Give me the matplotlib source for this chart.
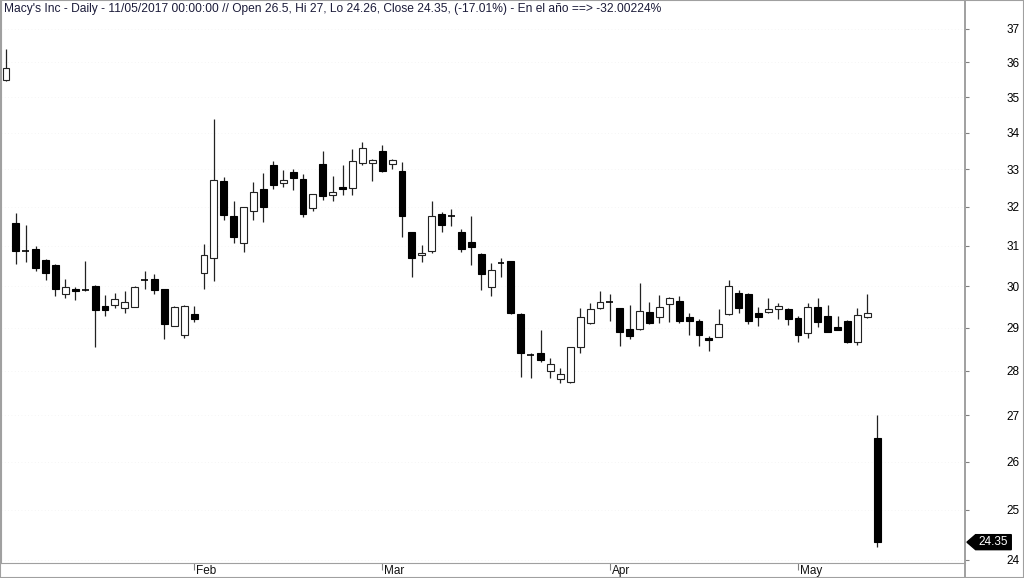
import numpy as np
import matplotlib.pyplot as plt
from matplotlib.patches import Polygon, Rectangle
from matplotlib.lines import Line2D
import matplotlib.transforms as mtrans

plt.rcParams['font.family'] = ['Liberation Sans', 'DejaVu Sans']

# daily candles, Jan 4 2017 .. May 11 2017
dates = ['01-04', '01-05', '01-06', '01-09', '01-10', '01-11', '01-12', '01-13', '01-17', '01-18',
         '01-19', '01-20', '01-23', '01-24', '01-25', '01-26', '01-27', '01-30', '01-31',
         '02-01', '02-02', '02-03', '02-06', '02-07', '02-08', '02-09', '02-10', '02-13', '02-14',
         '02-15', '02-16', '02-17', '02-21', '02-22', '02-23', '02-24', '02-27', '02-28',
         '03-01', '03-02', '03-03', '03-06', '03-07', '03-08', '03-09', '03-10', '03-13', '03-14',
         '03-15', '03-16', '03-17', '03-20', '03-21', '03-22', '03-23', '03-24', '03-27', '03-28',
         '03-29', '03-30', '03-31',
         '04-03', '04-04', '04-05', '04-06', '04-07', '04-10', '04-11', '04-12', '04-13', '04-17',
         '04-18', '04-19', '04-20', '04-21', '04-24', '04-25', '04-26', '04-27', '04-28',
         '05-01', '05-02', '05-03', '05-04', '05-05', '05-08', '05-09', '05-10', '05-11']

opens = [35.49, 31.59, 30.87, 30.91, 30.65, 30.53, 29.81, 29.92, 29.91, 30.01,
         29.52, 29.55, 29.48, 29.50, 30.15, 30.18, 29.93, 29.05, 28.83,
         29.32, 30.33, 30.70, 32.68, 31.76, 31.07, 31.90, 32.47, 33.10, 32.64,
         32.92, 32.74, 31.97, 33.13, 32.32, 32.52, 32.50, 33.17, 33.17,
         33.50, 33.15, 32.96, 31.35, 30.78, 30.87, 31.83, 31.77, 31.35, 31.09,
         30.80, 29.99, 30.56, 30.61, 29.32, 28.37, 28.41, 28.00, 27.81, 27.74,
         28.54, 29.12, 29.46,
         29.61, 29.47, 28.96, 28.96, 29.37, 29.26, 29.56, 29.65, 29.26, 29.17,
         28.77, 28.79, 29.32, 29.84, 29.80, 29.34, 29.38, 29.45, 29.45,
         29.22, 28.87, 29.50, 29.28, 29.01, 29.16, 28.66, 29.26, 26.50]

highs = [36.39, 31.85, 31.53, 30.99, 30.67, 30.55, 30.17, 29.97, 30.62, 30.02,
         29.79, 29.83, 29.89, 30.01, 30.38, 30.30, 29.94, 29.51, 29.55,
         29.53, 31.05, 34.38, 32.79, 32.15, 32.00, 32.66, 32.89, 33.23, 32.99,
         33.01, 32.86, 32.34, 33.50, 32.83, 33.10, 33.55, 33.73, 33.28,
         33.65, 33.28, 33.19, 31.36, 31.03, 32.15, 31.86, 31.96, 31.43, 31.76,
         30.81, 30.57, 30.69, 30.62, 29.36, 28.40, 28.95, 28.29, 28.06, 28.55,
         29.48, 29.60, 29.87,
         29.82, 29.48, 29.54, 30.07, 29.61, 29.79, 29.73, 29.75, 29.36, 29.20,
         28.81, 29.44, 30.15, 29.91, 29.83, 29.50, 29.71, 29.60, 29.47,
         29.28, 29.59, 29.71, 29.54, 29.28, 29.18, 29.46, 29.80, 27.00]

lows = [35.47, 30.54, 30.59, 30.38, 30.15, 29.76, 29.70, 29.66, 29.87, 28.56,
        29.29, 29.48, 29.36, 29.49, 29.92, 29.80, 28.73, 29.04, 28.75,
        29.14, 29.92, 30.13, 31.67, 31.07, 30.84, 31.67, 31.60, 32.47, 32.53,
        32.45, 31.75, 31.90, 32.17, 32.15, 32.32, 32.32, 33.12, 32.69,
        32.92, 33.01, 31.22, 30.22, 30.59, 30.82, 31.36, 31.50, 30.84, 30.53,
        29.91, 29.76, 30.22, 29.33, 27.85, 27.83, 28.21, 27.83, 27.73, 27.73,
        28.42, 29.08, 29.45,
        29.17, 28.57, 28.73, 28.95, 29.09, 29.12, 29.14, 29.12, 28.83, 28.57,
        28.46, 28.78, 29.31, 29.34, 29.08, 29.03, 29.34, 29.21, 29.07,
        28.67, 28.77, 29.01, 28.90, 28.94, 28.64, 28.60, 29.22, 24.26]

closes = [35.83, 30.87, 30.85, 30.45, 30.33, 29.92, 29.99, 29.87, 29.89, 29.42,
          29.42, 29.69, 29.62, 29.99, 30.15, 29.91, 29.09, 29.50, 29.53,
          29.20, 30.76, 32.72, 31.80, 31.22, 31.99, 32.39, 32.01, 32.58, 32.71,
          32.77, 31.82, 32.33, 32.30, 32.39, 32.46, 33.21, 33.58, 33.26,
          32.95, 33.25, 31.77, 30.70, 30.83, 31.77, 31.54, 31.77, 30.91, 30.97,
          30.29, 30.40, 30.56, 29.34, 28.40, 28.37, 28.25, 28.16, 27.93, 28.54,
          29.26, 29.45, 29.62,
          29.61, 28.89, 28.81, 29.40, 29.11, 29.50, 29.70, 29.16, 29.17, 28.82,
          28.71, 29.08, 30.01, 29.47, 29.16, 29.26, 29.44, 29.52, 29.21,
          28.84, 29.50, 29.14, 28.91, 28.95, 28.66, 29.30, 29.34, 24.35]

month_labels = ['Feb', 'Mar', 'Apr', 'May']
month_starts = ['02-01', '03-01', '04-03', '05-01']
yticks = [24, 25, 26, 27, 28, 29, 30, 31, 32, 33, 34, 35, 36, 37]

title = ("Macy's Inc - Daily - 11/05/2017 00:00:00 // Open 26.5, Hi 27, Lo 24.26, "
         "Close 24.35, (-17.01%) - En el año ==> -32.00224%")

x = np.arange(len(dates))
o = np.array(opens)
h = np.array(highs)
l = np.array(lows)
c = np.array(closes)

fig = plt.figure(figsize=(10.24, 5.78), dpi=100)
ax = fig.add_axes([1 / 1024, 15 / 578, 964 / 1024, 563 / 578])

ax.set_yscale('log')
ax.set_ylim(23.94, 37.88)
ax.set_xlim(-0.505, 96.87)

# faint grid
for t in yticks:
    ax.axhline(t, color='#f2f2f2', lw=0.6, ls=(0, (1, 3)), zorder=0)

# wicks
ax.vlines(x, l, h, color='#222222', lw=0.9, zorder=1)

# bodies
w = 0.7
for xi, oi, ci in zip(x, o, c):
    if abs(ci - oi) < 0.03:
        ax.hlines(oi, xi - w / 2, xi + w / 2, color='black', lw=1.2, zorder=2)
        continue
    up = ci > oi
    ax.bar(xi, abs(ci - oi), bottom=min(oi, ci), width=w,
           color='white' if up else 'black', edgecolor='#222222' if up else 'black',
           linewidth=0.8, zorder=2)

# axes styling
for side in ['left', 'bottom', 'right']:
    ax.spines[side].set_color('#a0a0a0')
ax.spines['top'].set_visible(False)
ax.spines['right'].set_linewidth(1.4)

ax.yaxis.tick_right()
ax.set_yticks(yticks)
ax.set_yticklabels([str(t) for t in yticks])
ax.yaxis.set_minor_locator(plt.NullLocator())
ax.tick_params(axis='y', which='major', direction='out', length=3, width=0.8,
               color='#808080', pad=36.5, labelsize=8.5)
for tl in ax.get_yticklabels():
    tl.set_horizontalalignment('right')

mpos = [dates.index(m) for m in month_starts]
ax.set_xticks(mpos)
ax.set_xticklabels([])
ax.tick_params(axis='x', direction='out', length=5, width=0.8, color='#808080')
for p, lab in zip(mpos, month_labels):
    ax.text(p + 0.2, -0.004, lab, transform=mtrans.blended_transform_factory(ax.transData, ax.transAxes),
            ha='left', va='top', fontsize=8.5, color='#111111', clip_on=False)

# last price tag
blend = mtrans.blended_transform_factory(ax.transAxes, ax.transData)
last = closes[-1]
hh = np.exp(7.5 / 1227)
tag = Polygon([[1.002, last], [1.011, last * hh], [1.048, last * hh],
               [1.048, last / hh], [1.011, last / hh]], closed=True,
              transform=blend, facecolor='black', edgecolor='black', clip_on=False, zorder=5)
ax.add_patch(tag)
ax.text(1.029, last, '%.2f' % last, transform=blend, ha='center', va='center',
        fontsize=8.5, color='white', clip_on=False, zorder=6)

# title
fig.text(4 / 1024, 1 - 9 / 578, title, ha='left', va='center', fontsize=8.65, color='#1c1c3a')

# right axis line runs down through the date strip
fig.lines.append(Line2D([965 / 1024, 965 / 1024], [0, 15 / 578], transform=fig.transFigure,
                        color='#a0a0a0', lw=1.4))

# outer frame
fig.patches.append(Rectangle((0, 0), 1, 1, transform=fig.transFigure, fill=False,
                             edgecolor='#a0a0a0', lw=1.5))

fig.savefig('out.png', dpi=100)
